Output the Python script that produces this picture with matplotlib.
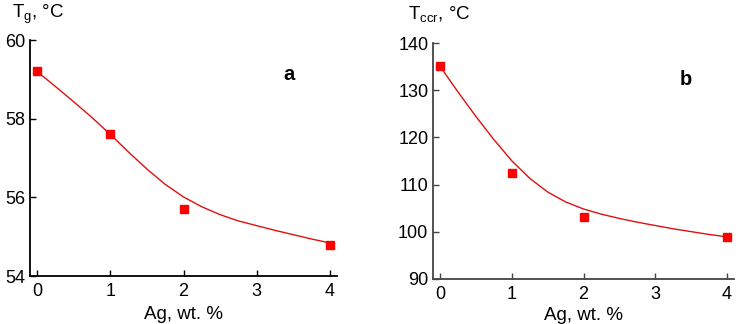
import matplotlib
matplotlib.use("Agg")
import matplotlib.pyplot as plt

plt.rcParams['font.family'] = ['Liberation Sans', 'DejaVu Sans']
plt.rcParams['mathtext.fontset'] = 'custom'
plt.rcParams['mathtext.rm'] = 'Liberation Sans'
plt.rcParams['mathtext.it'] = 'Liberation Sans:italic'

# measured points
ag = [0, 1, 2, 4]
tg = [59.2, 57.6, 55.7, 54.8]
tccr = [135.2, 112.4, 103.0, 98.8]

# fitted curves
fit_x = [0, 0.25, 0.5, 0.75, 1, 1.25, 1.5, 1.75, 2, 2.25, 2.5, 2.75, 3, 3.25, 3.5, 3.75, 4]
tg_fit = [59.2, 58.82, 58.43, 58.03, 57.6, 57.15, 56.72, 56.33, 56.01, 55.76, 55.56,
          55.40, 55.28, 55.16, 55.05, 54.94, 54.84]
tccr_fit = [135.0, 129.6, 124.4, 119.5, 115.0, 111.3, 108.4, 106.3, 104.8, 103.7, 102.8,
            102.0, 101.3, 100.6, 100.0, 99.4, 98.9]

xticks = [0, 1, 2, 3, 4]

fig = plt.figure(figsize=(7.4, 3.24), dpi=100)
ax1 = fig.add_axes([30/740, 48/324, 307/740, 236/324])
ax2 = fig.add_axes([433.3/740, 45.3/324, 300.7/740, 235.4/324])


def style(ax, spine_col, label_y):
    for s in ['top', 'right']:
        ax.spines[s].set_visible(False)
    for s in ['left', 'bottom']:
        ax.spines[s].set_color(spine_col)
        ax.spines[s].set_linewidth(1.3)
    ax.tick_params(direction='in', length=4, width=1, color=spine_col,
                   labelsize=13, pad=3.6)
    ax.tick_params(axis='x', pad=5)
    ax.set_xticks(xticks)
    ax.set_xlabel('Ag, wt. %', fontsize=13.5)
    ax.xaxis.label.set_va('baseline')
    ax.xaxis.set_label_coords(0.5, label_y)


ax1.plot(fit_x, tg_fit, color='#e01010', lw=1)
ax1.plot(ag, tg, 's', color='#ff0000', ms=5.5, clip_on=False)
ax1.set_xlim(-0.096, 4.096)
ax1.set_ylim(54, 60)
ax1.set_yticks([54, 56, 58, 60])
style(ax1, 'black', -0.182)
ax1.text(0.845, 0.855, 'a', transform=ax1.transAxes, fontsize=14.5,
         fontweight='bold', ha='center', va='center')
fig.text(12/740, 1 - 18.5/324, r'T$_\mathrm{g}$, °C', fontsize=13.5, ha='left',
         va='baseline')

ax2.plot(fit_x, tccr_fit, color='#e01010', lw=1)
ax2.plot(ag, tccr, 's', color='#ff0000', ms=5.5, clip_on=False)
ax2.set_xlim(-0.098, 4.1)
ax2.set_ylim(90, 140)
ax2.set_yticks([90, 100, 110, 120, 130, 140])
style(ax2, '#444444', -0.175)
ax2.text(0.84, 0.845, 'b', transform=ax2.transAxes, fontsize=14.5,
         fontweight='bold', ha='center', va='center')
fig.text(408/740, 1 - 18.5/324, r'T$_\mathrm{ccr}$, °C', fontsize=13.5, ha='left',
         va='baseline')

fig.savefig('out.png', dpi=100)
